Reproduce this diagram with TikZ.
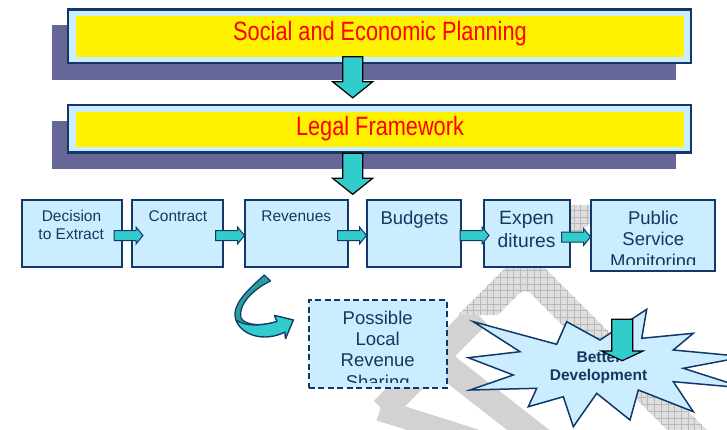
\documentclass[tikz,border=0pt]{standalone}
\usepackage{fontspec}
\setmainfont{Liberation Sans}
\newfontfamily\narrowfont[FakeStretch=0.82]{Liberation Sans}
\definecolor{bord}{RGB}{16,56,104}
\definecolor{lblue}{RGB}{204,236,255}
\definecolor{shad}{RGB}{102,102,153}
\definecolor{tealA}{RGB}{51,204,204}
\definecolor{tealB}{RGB}{42,157,157}
\definecolor{txtb}{RGB}{23,55,94}
\definecolor{wmplain}{RGB}{210,210,210}
\definecolor{wmfill}{RGB}{222,222,222}
\definecolor{wmline}{RGB}{185,185,185}
\tikzset{
  rowbox/.style={draw=bord, line width=2, fill=lblue, inner sep=0, outer sep=0},
  topbox/.style={draw=bord, line width=2.5, fill=lblue, inner sep=0, outer sep=0},
  yellowbox/.style={fill=yellow, inner sep=0, outer sep=0},
  shadowbox/.style={fill=shad, inner sep=0, outer sep=0, anchor=north west},
  dashbox/.style={draw=bord, line width=2, dash pattern=on 6pt off 3.5pt, fill=lblue, inner sep=0, outer sep=0},
  toptext/.style={text=red, font=\narrowfont\fontsize{26.5}{30}\selectfont, anchor=base, inner sep=0},
  smalltxt/.style={text=txtb, font=\fontsize{15.5}{18}\selectfont, anchor=base, inner sep=0},
  bigtxt/.style={text=txtb, font=\fontsize{18.5}{21}\selectfont, anchor=base, inner sep=0},
  startxt/.style={text=txtb, font=\bfseries\fontsize{15.5}{18}\selectfont, anchor=base, inner sep=0},
  bigarrow/.style={draw=black, fill=tealA, line width=1.2, line join=miter},
  smallarrow/.style={draw=bord, fill=tealA, line width=1, line join=miter},
  wmband/.style={draw=wmplain, line cap=butt},
  starsty/.style={fill=lblue, draw=bord, line width=1.5, line join=miter},
  curvesty/.style={draw=bord, line width=1.2, line join=round},
}
% right-pointing block arrow: name, cx, cy, length, shaft half, head half, head length, style
\newcommand\rblockarrow[8]{%
  \coordinate (#1) at (#2,#3);
  \draw[#8] ([shift={(-#4/2,-#5)}]#1) -- ([shift={(#4/2-#7,-#5)}]#1)
    -- ([shift={(#4/2-#7,-#6)}]#1) -- ([shift={(#4/2,0)}]#1)
    -- ([shift={(#4/2-#7,#6)}]#1) -- ([shift={(#4/2-#7,#5)}]#1)
    -- ([shift={(-#4/2,#5)}]#1) -- cycle;}
% down-pointing block arrow
\newcommand\dblockarrow[8]{%
  \coordinate (#1) at (#2,#3);
  \draw[#8] ([shift={(-#5,-#4/2)}]#1) -- ([shift={(-#5,#4/2-#7)}]#1)
    -- ([shift={(-#6,#4/2-#7)}]#1) -- ([shift={(0,#4/2)}]#1)
    -- ([shift={(#6,#4/2-#7)}]#1) -- ([shift={(#5,#4/2-#7)}]#1)
    -- ([shift={(#5,-#4/2)}]#1) -- cycle;}
\begin{document}
\begin{tikzpicture}[x=1pt,y=-1pt]
\useasboundingbox (0,0) rectangle (727,430);
\fill[white] (0,0) rectangle (727,430);

% watermark (background)
\draw[wmband, line width=26] (383,410) -- (478,315);
\draw[wmband, line width=26] (445,365) -- (550,447);
\draw[wmband, line width=22] (380,410) -- (475,440);
\begin{scope}
  \clip (458.2,315) -- (568.2,205) -- (607.8,205) -- (544.8,268) -- (716.8,440)
    -- (677.2,440) [rounded corners=8] -- (525,287.8) [sharp corners] -- (497.8,315) -- cycle;
  \fill[wmfill] (440,190) rectangle (730,440);
  \foreach \i in {0,...,44} {
    \draw[wmline, line width=0.5] (440+\i*6.7,190) -- (440+\i*6.7,440);
  }
  \foreach \j in {0,...,38} {
    \draw[wmline, line width=0.5] (440,190+\j*6.7) -- (730,190+\j*6.7);
  }
\end{scope}

% top boxes
\node[shadowbox, minimum width=624, minimum height=55] (sh1) at (52,25) {};
\node[topbox, minimum width=623.1, minimum height=53.5] (sep) at (379.5,36.3) {};
\node[yellowbox, minimum width=608, minimum height=41.6] (sepy) at (380,36.5) {};
\node[toptext] (sept) at (380,41) {Social and Economic Planning};

\node[shadowbox, minimum width=624, minimum height=48] (sh2) at (52,121) {};
\node[topbox, minimum width=623.1, minimum height=47.5] (leg) at (379.5,129) {};
\node[yellowbox, minimum width=608, minimum height=35.6] (legy) at (380,129.5) {};
\node[toptext] (legt) at (380,136) {Legal Framework};

\dblockarrow{arr1}{352.7}{77.3}{41}{10}{20}{16}{bigarrow}
\dblockarrow{arr2}{352.7}{173.8}{41}{10}{20}{16}{bigarrow}

% process row
\node[rowbox, minimum width=100, minimum height=67] (dec) at (71.7,233.5) {};
\node[rowbox, minimum width=91, minimum height=67] (con) at (177.5,233.5) {};
\node[rowbox, minimum width=103, minimum height=67] (rev) at (296.5,233.5) {};
\node[rowbox, minimum width=94, minimum height=67] (bud) at (414,233.5) {};
\node[rowbox, minimum width=86, minimum height=67] (exp) at (527,233.5) {};
\node[rowbox, minimum width=124, minimum height=71] (pub) at (653,235.5) {};

\node[smalltxt] (dec1) at (71.5,221.7) {Decision};
\node[smalltxt] (dec2) at (71.2,240) {to Extract};
\node[smalltxt] (con1) at (178,221.7) {Contract};
\node[smalltxt] (rev1) at (296.3,221.7) {Revenues};
\node[bigtxt] (bud1) at (414.5,224) {Budgets};
\node[bigtxt, font=\fontsize{19.3}{22}\selectfont] (exp1) at (526.6,225) {Expen};
\node[bigtxt, font=\fontsize{19.3}{22}\selectfont] (exp2) at (526.6,247.3) {ditures};
\node[bigtxt] (pub1) at (653.3,224.3) {Public};
\node[bigtxt] (pub2) at (653.3,245) {Service};
\begin{scope}
  \clip (595,250) rectangle (712,264.5);
  \node[bigtxt] (pub3) at (653.3,267) {Monitoring};
\end{scope}

\rblockarrow{a1}{128.5}{235.5}{29}{5}{8.5}{7}{smallarrow}
\rblockarrow{a2}{230}{235.5}{29}{5}{8.5}{7}{smallarrow}
\rblockarrow{a3}{352}{235.5}{29}{5}{8.5}{7}{smallarrow}
\rblockarrow{a4}{474.5}{235.5}{29}{5}{8.5}{7}{smallarrow}
\rblockarrow{a5}{576}{237}{29}{5}{8.5}{7}{smallarrow}

% curved arrow
\path[curvesty, fill=tealB] (264.3,275)
  .. controls (250,288) and (230,305) .. (236,320)
  .. controls (242,336) and (265,342) .. (285,332)
  -- (285.5,338.5) -- (293.3,320) -- (274.5,315.5) -- (277,321.5)
  .. controls (262,326) and (246,326) .. (241,318)
  .. controls (238,305) and (252,290) .. (270.5,281) -- cycle;
\path[curvesty, fill=tealA] (236,320)
  .. controls (242,336) and (265,342) .. (285,332)
  -- (285.5,338.5) -- (293.3,320) -- (274.5,315.5) -- (277,321.5)
  .. controls (262,326) and (246,327) .. (236,320) -- cycle;

% possible local revenue sharing
\node[dashbox, minimum width=138, minimum height=88] (plrs) at (377.7,344.3) {};
\node[bigtxt] (pl1) at (377.7,324) {Possible};
\node[bigtxt] (pl2) at (377.7,345) {Local};
\node[bigtxt] (pl3) at (377.7,366.7) {Revenue};
\begin{scope}
  \clip (310,370) rectangle (446,382);
  \node[bigtxt] (pl4) at (377.7,388) {Sharing};
\end{scope}

% starburst
\path[starsty] (473.3,321.7) -- (556.7,344.3) -- (566.7,321.7) -- (600,340) -- (646.7,309.3)
  -- (641.7,338.3) -- (693.3,333.3) -- (673.3,350) -- (745,356.7) -- (683.3,368.3)
  -- (745,388) -- (673.3,381.7) -- (693.3,411.7) -- (638.3,390) -- (630,420)
  -- (596.7,393.3) -- (573.3,426.7) -- (563.3,396.7) -- (528.3,406.7) -- (536.7,388.3)
  -- (470,390) -- (513.3,375) -- (468.3,357.7) -- (520,351.7) -- cycle;
\node[startxt] (bet) at (599,362) {Better};
\node[startxt] (dev) at (598.5,380) {Development};
\dblockarrow{sarr}{622.2}{340}{41.4}{10.5}{20.8}{9.7}{bigarrow}
\end{tikzpicture}
\end{document}
